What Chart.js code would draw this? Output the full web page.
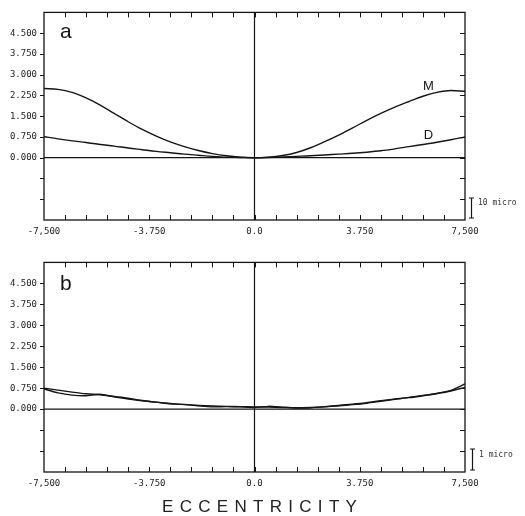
<!DOCTYPE html>
<html><head><meta charset="utf-8">
<script src="https://cdn.jsdelivr.net/npm/chart.js@4.4.1/dist/chart.umd.min.js"></script>
<style>
html,body{margin:0;padding:0;background:#fff;}
#wrap{position:relative;width:525px;height:516px;overflow:hidden;background:#fff;}
canvas{position:absolute;left:0;}
#xt{position:absolute;left:162px;top:498px;font:17px "Liberation Sans",Arial,sans-serif;letter-spacing:6.3px;line-height:17px;color:#222;white-space:nowrap;}
</style></head><body>
<div id="wrap">
<canvas id="ca" width="525" height="250" style="top:0"></canvas>
<canvas id="cb" width="525" height="266" style="top:250px"></canvas>
<div id="xt">ECCENTRICITY</div>
</div>
<script>
// ---- data ----
const eccentricity = [-7.5,-7,-6.5,-6,-5.5,-5,-4.5,-4,-3.5,-3,-2.5,-2,-1.5,-1,-0.5,0,0.5,1,1.5,2,2.5,3,3.5,4,4.5,5,5.5,6,6.5,7,7.5];
const seriesM = [2.50,2.47,2.36,2.16,1.90,1.60,1.30,1.02,0.78,0.57,0.40,0.26,0.15,0.07,0.02,0.00,0.02,0.08,0.19,0.36,0.58,0.82,1.08,1.35,1.60,1.83,2.03,2.22,2.36,2.43,2.40];
const seriesD = [0.76,0.68,0.61,0.55,0.48,0.42,0.35,0.29,0.23,0.18,0.13,0.09,0.05,0.02,0.01,0.00,0.01,0.03,0.05,0.07,0.10,0.13,0.16,0.20,0.25,0.32,0.40,0.48,0.56,0.65,0.75];
const seriesB1 = [0.75,0.68,0.61,0.55,0.51,0.45,0.39,0.31,0.25,0.20,0.16,0.13,0.11,0.10,0.09,0.08,0.07,0.06,0.05,0.06,0.08,0.12,0.16,0.21,0.28,0.35,0.42,0.49,0.56,0.65,0.78];
const seriesB2 = [0.72,0.58,0.50,0.48,0.53,0.44,0.36,0.30,0.25,0.19,0.17,0.12,0.08,0.09,0.08,0.06,0.10,0.07,0.04,0.05,0.09,0.13,0.18,0.23,0.30,0.36,0.41,0.48,0.56,0.67,0.90];
const xTickValues = [-7.5,-6.75,-6,-5.25,-4.5,-3.75,-3,-2.25,-1.5,-0.75,0,0.75,1.5,2.25,3,3.75,4.5,5.25,6,6.75,7.5];
const xTickLabels = {"-7.5":"-7,500","-3.75":"-3.750","0":"0.0","3.75":"3.750","7.5":"7,500"};
const yTickValues = [-2.25,-1.5,-0.75,0,0.75,1.5,2.25,3,3.75,4.5,5.25];
const yTickLabels = {"0":"0.000","0.75":"0.750","1.5":"1.500","2.25":"2.250","3":"3.000","3.75":"3.750","4.5":"4.500"};
const panelLabels = ["a","b"];
const curveLabels = [{text:"M",x:6.2,y:2.43},{text:"D",x:6.2,y:0.68}];
const scaleBarLabels = ["10 micro","1 micro"];

const X_MIN = eccentricity[0], X_MAX = eccentricity[eccentricity.length-1];
const Y_MIN = yTickValues[0], Y_MAX = yTickValues[yTickValues.length-1];
const key = v => String(Math.round(v*100)/100);
const pts = ys => eccentricity.map((x,i)=>({x:x,y:ys[i]}));
const INK = '#151515';

function makeChart(id, curves, cfg){
  const datasets = curves.map(c=>({data:pts(c.values),borderColor:INK,borderWidth:1.4,pointRadius:0,
      tension:c.tension,cubicInterpolationMode:c.mono?'monotone':'default',fill:false}));
  datasets.push({data:[{x:X_MIN,y:0},{x:X_MAX,y:0}],borderColor:INK,borderWidth:1.3,pointRadius:0,tension:0});
  datasets.push({data:[{x:0,y:Y_MIN},{x:0,y:Y_MAX}],borderColor:INK,borderWidth:1.2,pointRadius:0,tension:0});
  const deco = {
    id:'deco',
    afterDatasetsDraw(chart){
      const ctx=chart.ctx, a=chart.chartArea, xs=chart.scales.x, ys=chart.scales.y;
      ctx.save();
      ctx.strokeStyle=INK; ctx.lineWidth=1.3;
      ctx.strokeRect(a.left,a.top,a.right-a.left,a.bottom-a.top);
      ctx.lineWidth=1;
      ctx.beginPath();
      xTickValues.forEach(v=>{
        if(v===X_MIN||v===X_MAX) return;
        const px=Math.round(xs.getPixelForValue(v))+0.5;
        ctx.moveTo(px,a.top); ctx.lineTo(px,a.top+5);
        ctx.moveTo(px,a.bottom); ctx.lineTo(px,a.bottom-5);
      });
      yTickValues.forEach(v=>{
        if(v===Y_MIN||v===Y_MAX) return;
        const py=Math.round(ys.getPixelForValue(v))+0.5;
        ctx.moveTo(a.left-4,py); ctx.lineTo(a.left,py);
        ctx.moveTo(a.right-5,py); ctx.lineTo(a.right,py);
      });
      ctx.stroke();
      // scale bar
      const bx=a.right+cfg.barDx+0.5, b1=a.bottom-cfg.barLen-2, b2=a.bottom-2;
      ctx.lineWidth=1.2;
      ctx.beginPath();
      ctx.moveTo(bx,b1); ctx.lineTo(bx,b2);
      ctx.moveTo(bx-2.5,b1); ctx.lineTo(bx+2.5,b1);
      ctx.moveTo(bx-2.5,b2); ctx.lineTo(bx+2.5,b2);
      ctx.stroke();
      ctx.fillStyle='#333';
      ctx.font='8px "DejaVu Sans Mono", monospace';
      ctx.textAlign='left'; ctx.textBaseline='middle';
      ctx.fillText(cfg.bar, a.right+cfg.barDx+7, a.bottom-17);
      // panel letter
      ctx.fillStyle=INK;
      ctx.font='21px "Liberation Sans", Arial, sans-serif';
      ctx.textBaseline='alphabetic';
      ctx.fillText(cfg.letter, a.left+16, a.top+cfg.letterDy);
      // curve labels
      if(cfg.curveLabels){
        ctx.font='13px "Liberation Sans", Arial, sans-serif';
        ctx.textAlign='center';
        cfg.curveLabels.forEach(l=>ctx.fillText(l.text, xs.getPixelForValue(l.x), ys.getPixelForValue(l.y)));
      }
      ctx.restore();
    }
  };
  return new Chart(document.getElementById(id),{
    type:'line',
    data:{datasets},
    options:{
      responsive:false, animation:false, events:[],
      layout:{padding:{left:0,right:60,top:cfg.top,bottom:0}},
      plugins:{legend:{display:false},tooltip:{enabled:false},title:{display:false}},
      scales:{
        x:{type:'linear',min:X_MIN,max:X_MAX,
          afterBuildTicks:s=>{s.ticks=xTickValues.map(v=>({value:v}));},
          afterFit:s=>{s.height=cfg.xh;},
          grid:{display:false,drawTicks:false,tickLength:0},border:{display:false},
          ticks:{autoSkip:false,maxRotation:0,minRotation:0,padding:6,color:'#222',
            font:{family:'"DejaVu Sans Mono", monospace',size:9},
            callback:v=>xTickLabels[key(v)]||''}},
        y:{type:'linear',min:Y_MIN,max:Y_MAX,
          afterBuildTicks:s=>{s.ticks=yTickValues.map(v=>({value:v}));},
          afterFit:s=>{s.width=44;},
          grid:{display:false,drawTicks:false,tickLength:0},border:{display:false},
          ticks:{autoSkip:false,padding:7,color:'#222',
            font:{family:'"DejaVu Sans Mono", monospace',size:9},
            callback:v=>yTickLabels[key(v)]||''}}
      }
    },
    plugins:[deco]
  });
}

makeChart('ca',[{values:seriesM,tension:0.4,mono:true},{values:seriesD,tension:0.4,mono:true}],
  {top:10,xh:30,letter:panelLabels[0],letterDy:26,bar:scaleBarLabels[0],barDx:6,barLen:20,curveLabels:curveLabels});
makeChart('cb',[{values:seriesB1,tension:0.3,mono:false},{values:seriesB2,tension:0.2,mono:false}],
  {top:12,xh:44,letter:panelLabels[1],letterDy:28,bar:scaleBarLabels[1],barDx:7,barLen:21,curveLabels:null});
</script>
</body></html>
